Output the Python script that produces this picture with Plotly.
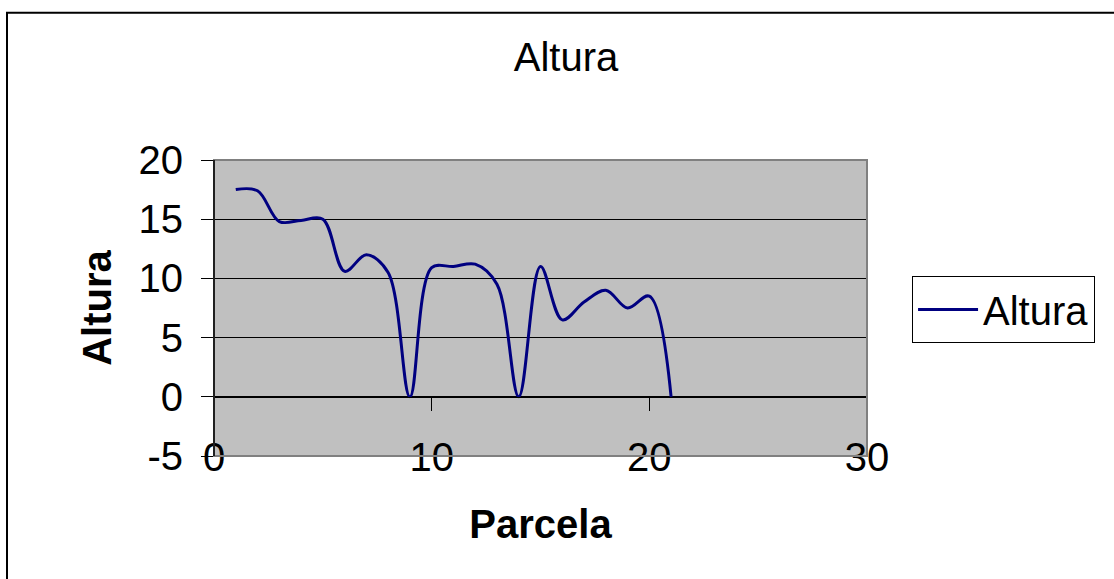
import plotly.graph_objects as go

# Altura por parcela
parcela = [1, 2, 3, 4, 5, 6, 7, 8, 9, 10, 11, 12, 13, 14, 15, 16, 17, 18, 19, 20, 21]
altura = [17.5, 17.4, 14.8, 14.9, 15.0, 10.6, 12.0, 10.5, 0.0, 10.9, 11.0, 11.2,
          9.5, 0.0, 11.0, 6.5, 8.0, 9.0, 7.5, 8.5, 0.0]

x_ticks = [0, 10, 20, 30]
y_ticks = [-5, 0, 5, 10, 15, 20]

FONT = "Liberation Sans, Arial, sans-serif"
FS = 40

fig = go.Figure()
fig.add_trace(go.Scatter(
    x=parcela, y=altura, mode="lines", name="Altura",
    line=dict(color="#000080", width=3, shape="spline", smoothing=1.0),
))

fig.update_layout(
    width=1114, height=579,
    margin=dict(l=214, r=247, t=160, b=123),
    paper_bgcolor="white",
    plot_bgcolor="#C0C0C0",
    font=dict(family=FONT, size=FS, color="black"),
    title=dict(text="Altura", x=0.539, xref="paper", xanchor="center",
               y=1 - 57 / 579, yref="container", yanchor="middle",
               font=dict(family=FONT, size=FS, color="black")),
    showlegend=True,
    legend=dict(x=1.069, xanchor="left", y=0.608, yanchor="top",
                bordercolor="black", borderwidth=1, bgcolor="white",
                font=dict(family=FONT, size=FS, color="black"),
                itemwidth=60, tracegroupgap=0),
    xaxis=dict(
        range=[0, 30], tickvals=x_ticks, ticktext=[str(v) for v in x_ticks],
        anchor="free", position=0.2,
        showline=True, linecolor="black", linewidth=1,
        ticks="outside", ticklen=13, tickcolor="black", tickwidth=1,
        ticklabelstandoff=12,
        showgrid=False, zeroline=False,
        title=dict(text="<b>Parcela</b>", standoff=32,
                   font=dict(family=FONT, size=FS, color="black")),
    ),
    yaxis=dict(
        range=[-5, 20], tickvals=y_ticks, ticktext=[str(v) for v in y_ticks],
        showline=True, linecolor="black", linewidth=1,
        ticks="outside", ticklen=12, tickcolor="black", tickwidth=1,
        ticklabelstandoff=10,
        showgrid=True, gridcolor="black", gridwidth=1, zeroline=False,
        title=dict(text="<b>Altura</b>", standoff=14,
                   font=dict(family=FONT, size=FS, color="black")),
    ),
    shapes=[
        # gray frame of the plot area (top, right, bottom)
        dict(type="rect", xref="x domain", yref="y domain", x0=0, x1=1, y0=0, y1=1,
             line=dict(color="#808080", width=2), fillcolor="rgba(0,0,0,0)", layer="above"),
        # y axis line redrawn on top of the frame
        dict(type="line", xref="x domain", yref="y domain", x0=0, x1=0, y0=0, y1=1,
             line=dict(color="black", width=1.5), layer="above"),
        # outer chart border
        dict(type="rect", xref="paper", yref="paper",
             x0=(7 - 214) / 653, x1=1.5, y0=-1.0, y1=(456 - 12.7) / 296,
             line=dict(color="black", width=2), fillcolor="rgba(0,0,0,0)", layer="below"),
    ],
)

fig.write_html("out.html")
